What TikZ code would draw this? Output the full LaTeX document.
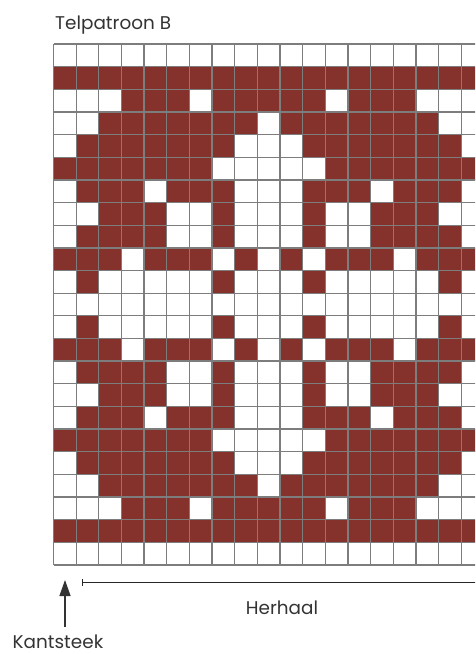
\documentclass[tikz,border=0pt]{standalone}
\usepackage{fontspec}
\setmainfont{Poppins}
\usetikzlibrary{arrows.meta}
\definecolor{knitred}{RGB}{133,49,44}
\definecolor{gridgray}{RGB}{125,125,125}
\definecolor{inkgray}{RGB}{51,51,51}
\begin{document}
\begin{tikzpicture}[x=1pt,y=-1pt,
  cellfill/.style={fill=knitred},
  gridline/.style={draw=gridgray,line width=1.3pt},
  lbl/.style={font=\fontsize{18.4}{21}\selectfont,text=inkgray,inner sep=0pt},
  kantarrow/.style={draw=inkgray,line width=1.4pt,-{Triangle[length=16pt,width=11pt]}},
  repeatline/.style={draw=black!85,line width=1.2pt,{Bar[width=7pt,line width=1.2pt]}-}]
\useasboundingbox (0,0) rectangle (475,654);
\def\cs{22.65}
\def\gx{53.5}
\def\gy{44}
\begin{scope}
\clip (0,0) rectangle (475,654);
% pattern rows 0..22
\foreach \rowlist [count=\r from 0] in {
 {0,0,0,0,0,0,0,0,0,0,0,0,0,0,0,0,0,0,0},
 {1,1,1,1,1,1,1,1,1,1,1,1,1,1,1,1,1,1,1},
 {0,0,0,1,1,1,0,1,1,1,1,1,0,1,1,1,0,0,0},
 {0,0,1,1,1,1,1,1,1,0,1,1,1,1,1,1,1,0,0},
 {0,1,1,1,1,1,1,1,0,0,0,1,1,1,1,1,1,1,0},
 {1,1,1,1,1,1,1,0,0,0,0,0,1,1,1,1,1,1,1},
 {0,1,1,1,0,1,1,1,0,0,0,1,1,1,0,1,1,1,0},
 {0,0,1,1,1,0,0,1,0,0,0,1,0,0,1,1,1,0,0},
 {0,1,1,1,1,0,0,1,0,0,0,1,0,0,1,1,1,1,0},
 {1,1,1,0,1,1,1,0,1,0,1,0,1,1,1,0,1,1,1},
 {0,1,0,0,0,0,0,1,0,0,0,1,0,0,0,0,0,1,0},
 {0,0,0,0,0,0,0,0,0,0,0,0,0,0,0,0,0,0,0},
 {0,1,0,0,0,0,0,1,0,0,0,1,0,0,0,0,0,1,0},
 {1,1,1,0,1,1,1,0,1,0,1,0,1,1,1,0,1,1,1},
 {0,1,1,1,1,0,0,1,0,0,0,1,0,0,1,1,1,1,0},
 {0,0,1,1,1,0,0,1,0,0,0,1,0,0,1,1,1,0,0},
 {0,1,1,1,0,1,1,1,0,0,0,1,1,1,0,1,1,1,0},
 {1,1,1,1,1,1,1,0,0,0,0,0,1,1,1,1,1,1,1},
 {0,1,1,1,1,1,1,1,0,0,0,1,1,1,1,1,1,1,0},
 {0,0,1,1,1,1,1,1,1,0,1,1,1,1,1,1,1,0,0},
 {0,0,0,1,1,1,0,1,1,1,1,1,0,1,1,1,0,0,0},
 {1,1,1,1,1,1,1,1,1,1,1,1,1,1,1,1,1,1,1},
 {0,0,0,0,0,0,0,0,0,0,0,0,0,0,0,0,0,0,0}} {
  \foreach \v [count=\c from 0] in \rowlist {
    \ifnum\v=1
      \fill[cellfill] ({\gx+\c*\cs},{\gy+\r*\cs}) rectangle ++(\cs,\cs);
    \fi
  }
}
% grid lines
\foreach \c in {0,...,19}
  \draw[gridline] ({\gx+\c*\cs},\gy) -- ({\gx+\c*\cs},{\gy+23*\cs});
\foreach \r in {0,...,23}
  \draw[gridline] (\gx,{\gy+\r*\cs}) -- ({\gx+19*\cs},{\gy+\r*\cs});
% repeat bracket
\coordinate (repstart) at (81.7,582.7);
\coordinate (repend) at (480,582.7);
\draw[repeatline] (repstart) -- (repend);
\end{scope}
% labels
\node[lbl,anchor=base west] (title) at (55,29) {Telpatroon B};
\node[lbl,anchor=base] (herhaal) at (282,614) {Herhaal};
\node[lbl,anchor=base west] (kant) at (12.5,648) {Kantsteek};
% kantsteek arrow
\coordinate (arrowtail) at (65,627);
\coordinate (arrowtip) at (65,580);
\draw[kantarrow] (arrowtail) -- (arrowtip);
\end{tikzpicture}
\end{document}
